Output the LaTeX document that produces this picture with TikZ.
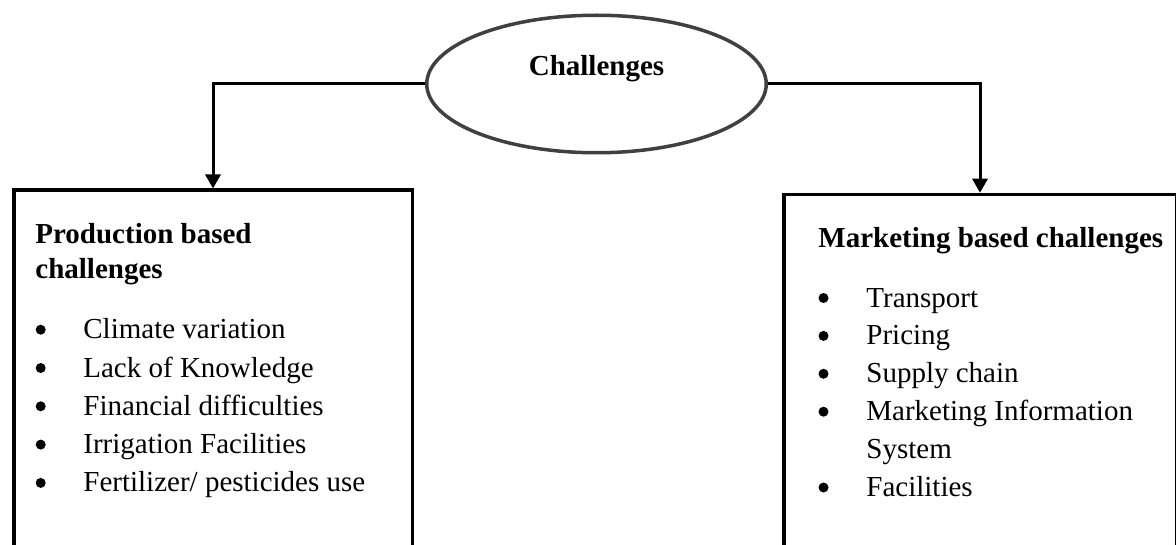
\documentclass[tikz,border=0pt]{standalone}
\usepackage{fontspec}
\setmainfont{Liberation Serif}
\usetikzlibrary{positioning, shapes.geometric, arrows.meta}

\definecolor{ringgray}{RGB}{64,64,64}

\begin{document}
\begin{tikzpicture}[x=0.5pt, y=-0.5pt,
    topic/.style={ellipse, draw=ringgray, line width=1.75pt, minimum width=169.75pt, minimum height=68.75pt, inner sep=0pt, font=\bfseries\fontsize{14.5}{17.5}\selectfont, text height=0pt, text depth=8pt},
    groupbox/.style={rectangle, draw=black, line width=1.75pt, inner sep=0pt, anchor=north},
    head text/.style={font=\bfseries\fontsize{14.5}{17.5}\selectfont, inner sep=0pt, align=left},
    item text/.style={font=\fontsize{14.5}{19}\selectfont, inner sep=0pt, anchor=base west},
    bulletdot/.style={circle, fill=black, inner sep=0pt, minimum size=5pt},
    link/.style={draw=black, line width=1.5pt, -{Triangle[width=7.5pt, length=7pt]}}
]

% page size, boxes run off the bottom edge
\useasboundingbox (0,0) rectangle (1176,545);
\clip (0,0) rectangle (1176,545);

% --- Top ellipse ---
\node[topic] (challenges) at (596.5,84) {Challenges};

% --- Group boxes ---
\node[groupbox, minimum width=199.25pt, minimum height=190pt] (prod) at (213,188.5) {};
\node[groupbox, minimum width=196.25pt, minimum height=190pt] (mkt) at (980,192.75) {};

% --- Connectors ---
\draw[link] (challenges.west) -| (prod.north);
\draw[link] (challenges.east) -| (mkt.north);

% --- Left box text ---
\node[head text, anchor=north west] (prod-head) at (35,223) {Production based\\challenges};
\foreach \i/\txt in {0/Climate variation, 1/Lack of Knowledge, 2/Financial difficulties, 3/Irrigation Facilities, 4/{Fertilizer/ pesticides use}} {
    \node[bulletdot] (prod-dot-\i) at (40.7, 329.7+38.3*\i) {};
    \node[item text] (prod-item-\i) at (83, 338.7+38.3*\i) {\txt};
}

% --- Right box text ---
\node[head text, anchor=base west] (mkt-head) at (818,247) {Marketing based challenges};
\foreach \i/\txt in {0/Transport, 1/Pricing, 2/Supply chain, 3/Marketing Information, 5/Facilities} {
    \node[bulletdot] (mkt-dot-\i) at (823.5, 298+37.9*\i) {};
    \node[item text] (mkt-item-\i) at (866, 307+37.9*\i) {\txt};
}
% second line of item 3
\node[item text] (mkt-item-4) at (866, 307+37.9*4) {System};

\end{tikzpicture}
\end{document}
